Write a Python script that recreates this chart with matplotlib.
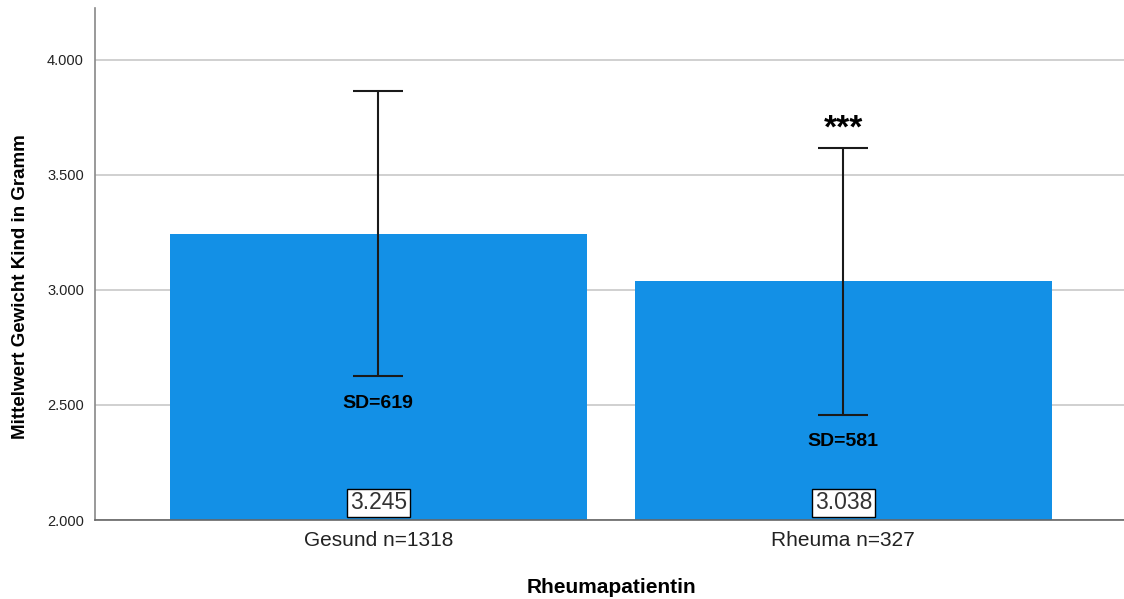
import matplotlib
matplotlib.use("Agg")
import matplotlib.pyplot as plt
from matplotlib.ticker import FuncFormatter

# data
groups = ["Gesund n=1318", "Rheuma n=327"]
means = [3245, 3038]
sds = [619, 581]
significance = ["", "***"]

plt.rcParams['font.family'] = ['Liberation Sans', 'DejaVu Sans']

fig = plt.figure(figsize=(11.24, 5.99), dpi=100)
ax = fig.add_axes([95/1124, 1 - 520/599, 1032/1124, 512/599])

x = list(range(len(groups)))
ax.bar(x, means, width=0.897, color='#1390e6', zorder=2)
ax.errorbar(x, means, yerr=sds, fmt='none', ecolor='#1a1a1a',
            elinewidth=1.5, capsize=18, capthick=1.5, zorder=3)

def de_fmt(v, pos=None):
    return f"{v:,.0f}".replace(",", ".")

for xi, m, s, sig in zip(x, means, sds, significance):
    ax.text(xi, m - s - 27/0.23, f"SD={s}", ha='center', va='center',
            fontsize=14, fontweight='bold', zorder=4)
    ax.text(xi, 2000 + 17/0.23, de_fmt(m), ha='center', va='center',
            fontsize=16.5, color='#333333', zorder=4,
            bbox=dict(boxstyle='square,pad=0.12', fc='white', ec='black', lw=1))
    if sig:
        ax.text(xi, m + s + 19/0.23, sig, ha='center', va='center',
                fontsize=24, fontweight='bold', zorder=4)

ax.set_ylim(2000, 4226)
ax.set_xlim(-0.609, 1.61)
ax.set_yticks([2000, 2500, 3000, 3500, 4000])
ax.yaxis.set_major_formatter(FuncFormatter(de_fmt))
ax.set_xticks(x)
ax.set_xticklabels(groups, fontsize=15, color='#222222')
ax.tick_params(axis='y', labelsize=10.5, length=0, pad=8, labelcolor='#222222')
ax.tick_params(axis='x', length=0, pad=8)
ax.grid(axis='y', color='#c8c8c8', lw=1.2, zorder=0)

for side in ['top', 'right']:
    ax.spines[side].set_visible(False)
ax.spines['left'].set_color('#888888')
ax.spines['bottom'].set_color('#666666')
ax.spines['left'].set_linewidth(1.2)
ax.spines['bottom'].set_linewidth(1.2)

ax.set_xlabel("Rheumapatientin", fontsize=15, fontweight='bold', labelpad=20)
ax.set_ylabel("Mittelwert Gewicht Kind in Gramm", fontsize=13.5, fontweight='bold')
ax.yaxis.set_label_coords(-0.064, 0.455)

fig.savefig("out.png", dpi=100)
